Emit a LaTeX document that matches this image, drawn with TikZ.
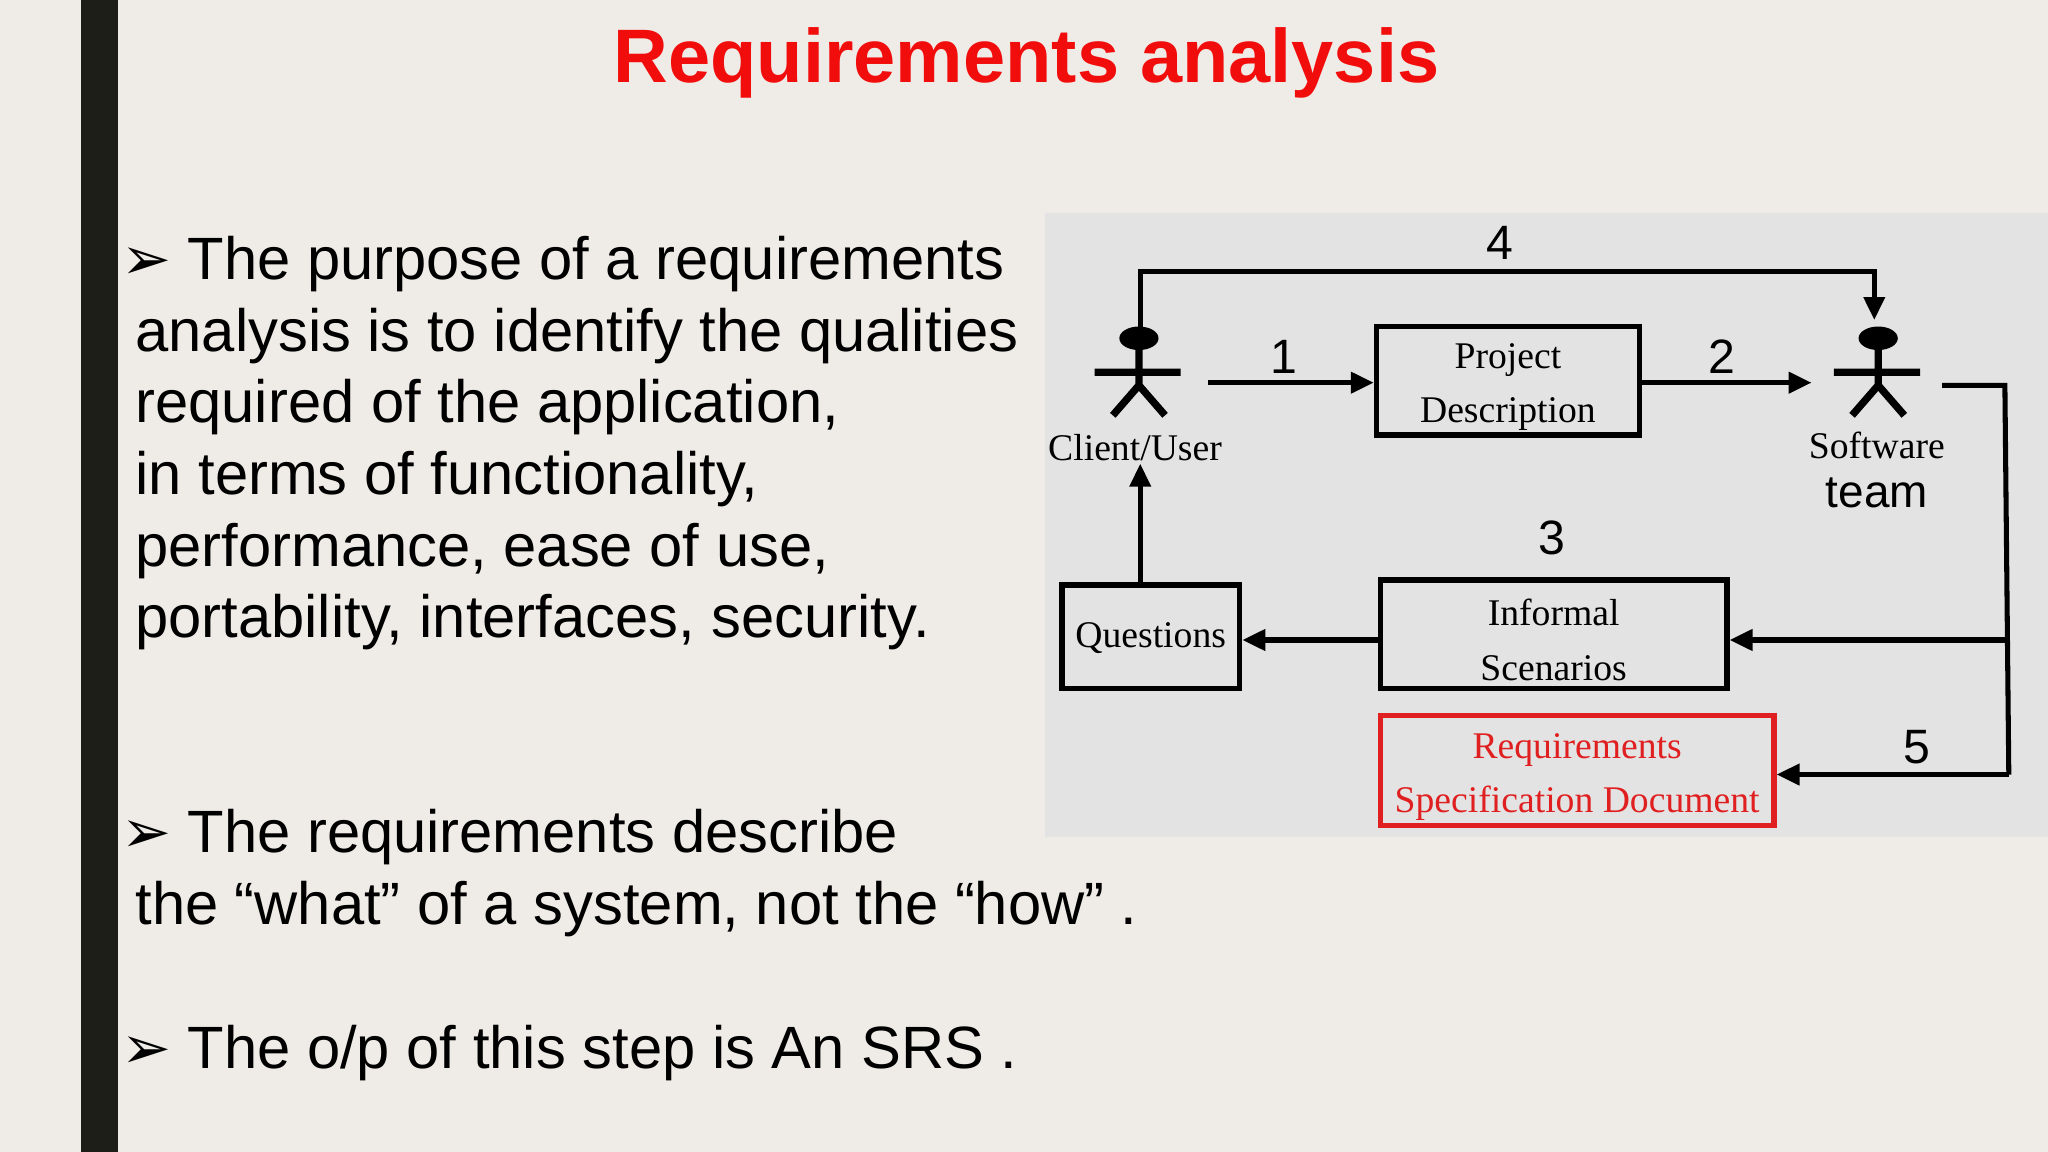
\documentclass[tikz,border=0pt]{standalone}
\usepackage{fontspec}
\setmainfont{Liberation Sans}
\newfontfamily\serifd{Liberation Serif}
\newfontfamily\djv{DejaVu Sans}
\usetikzlibrary{arrows.meta}
\definecolor{bg}{HTML}{EFEBE6}
\definecolor{bar}{HTML}{1C1E17}
\definecolor{panel}{HTML}{E3E3E3}
\definecolor{titred}{HTML}{F20D0D}
\definecolor{boxred}{HTML}{E02020}
\tikzset{
 bullet/.style={anchor=north west,inner sep=0pt,align=left,font=\fontsize{13}{15.6}\selectfont},
 dbox/.style={draw,line width=1.2pt,inner sep=0pt,align=center,font=\serifd\fontsize{8.2}{11.8}\selectfont},
 num/.style={font=\fontsize{10.5}{12}\selectfont},
 lbl/.style={font=\serifd\fontsize{8.2}{10}\selectfont},
 conn/.style={line width=1.1pt,-{Triangle[length=5pt,width=4.5pt]}},
 ln/.style={line width=1.1pt}
}
\begin{document}
\begin{tikzpicture}[x=0.01cm,y=-0.01cm]
\useasboundingbox (0,0) rectangle (1568,882);
\fill[bg] (0,0) rectangle (1568,882);
\fill[bar] (62,0) rectangle (90,882);
\node[font=\bfseries\fontsize{16.5}{18}\selectfont,text=titred] (title) at (786,48) {Requirements analysis};
% bullets
\node[bullet] (b1a) at (92,180) {{\djv\fontsize{13}{14}\selectfont ➢}\ The purpose of a requirements};
\node[bullet] (b1) at (103,235) {analysis is to identify the qualities\\required of the application,\\in terms of functionality,\\performance, ease of use,\\portability, interfaces, security.};
\node[bullet] (b2) at (92,619) {{\djv\fontsize{13}{14}\selectfont ➢}\ The requirements describe};
\node[bullet] (b2b) at (103,674) {the “what” of a system, not the “how” .};
\node[bullet] (b3) at (92,784) {{\djv\fontsize{13}{14}\selectfont ➢}\ The o/p of this step is An SRS .};
% panel
\fill[panel] (800,163) rectangle (1568,641);
% stick figures
\foreach \n/\x in {cu/872,st/1438}{
 \fill (\x,259) ellipse (15 and 9);
 \draw[line width=1.6pt] (\x,266) -- (\x,295) (\x-34,285) -- (\x+32,285)
   (\x-20,318) -- (\x,295) -- (\x+20,318);
 \coordinate (\n) at (\x,250);
}
\node[lbl] (cul) at (869,343) {Client/User};
\node[lbl] (stl) at (1437,341) {Software};
\node[font=\fontsize{10}{12}\selectfont] (stt) at (1437,377) {team};
% boxes
\node[dbox,minimum width=2.01cm,minimum height=0.83cm] (pd) at (1154.5,291.5) {\strut Project\\Description};
\node[dbox,minimum width=1.36cm,minimum height=0.79cm] (q) at (881,487.5) {\strut Questions};
\node[dbox,minimum width=2.65cm,minimum height=0.83cm] (is) at (1189.5,485.5) {\strut Informal\\Scenarios};
\node[dbox,draw=boxred,text=boxred,minimum width=3.01cm,minimum height=0.84cm] (rs) at (1207.5,590) {\strut Requirements\\Specification Document};
% numbers
\node[num] (n4) at (1148,186) {4};
\node[num] (n1) at (983,273) {1};
\node[num] (n2) at (1318,273) {2};
\node[num] (n3) at (1188,412) {3};
\node[num] (n5) at (1468,572) {5};
% connectors
\coordinate (a4s) at (873,252);
\coordinate (a4e) at (1435,245);
\draw[conn] (a4s) -- (873,208) -- (1435,208) -- (a4e);
\coordinate (a1s) at (925,293);
\draw[conn] (a1s) -- (pd.west|-a1s);
\coordinate (a2e) at (1387,293);
\draw[conn] (pd.east|-a2e) -- (a2e);
\coordinate (rs0) at (1487,295);
\coordinate (rc) at (1538,490);
\draw[ln] (rs0) -- (1535,295) -- (1538,593);
\draw[conn] (1538,593) -- (rs.east|-1538,593);
\draw[conn] (rc) -- (is.east|-rc);
\draw[conn] (is.west|-rc) -- (q.east|-rc);
\coordinate (cub) at (873,355);
\draw[conn] (q.north-|cub) -- (cub);
\end{tikzpicture}
\end{document}
